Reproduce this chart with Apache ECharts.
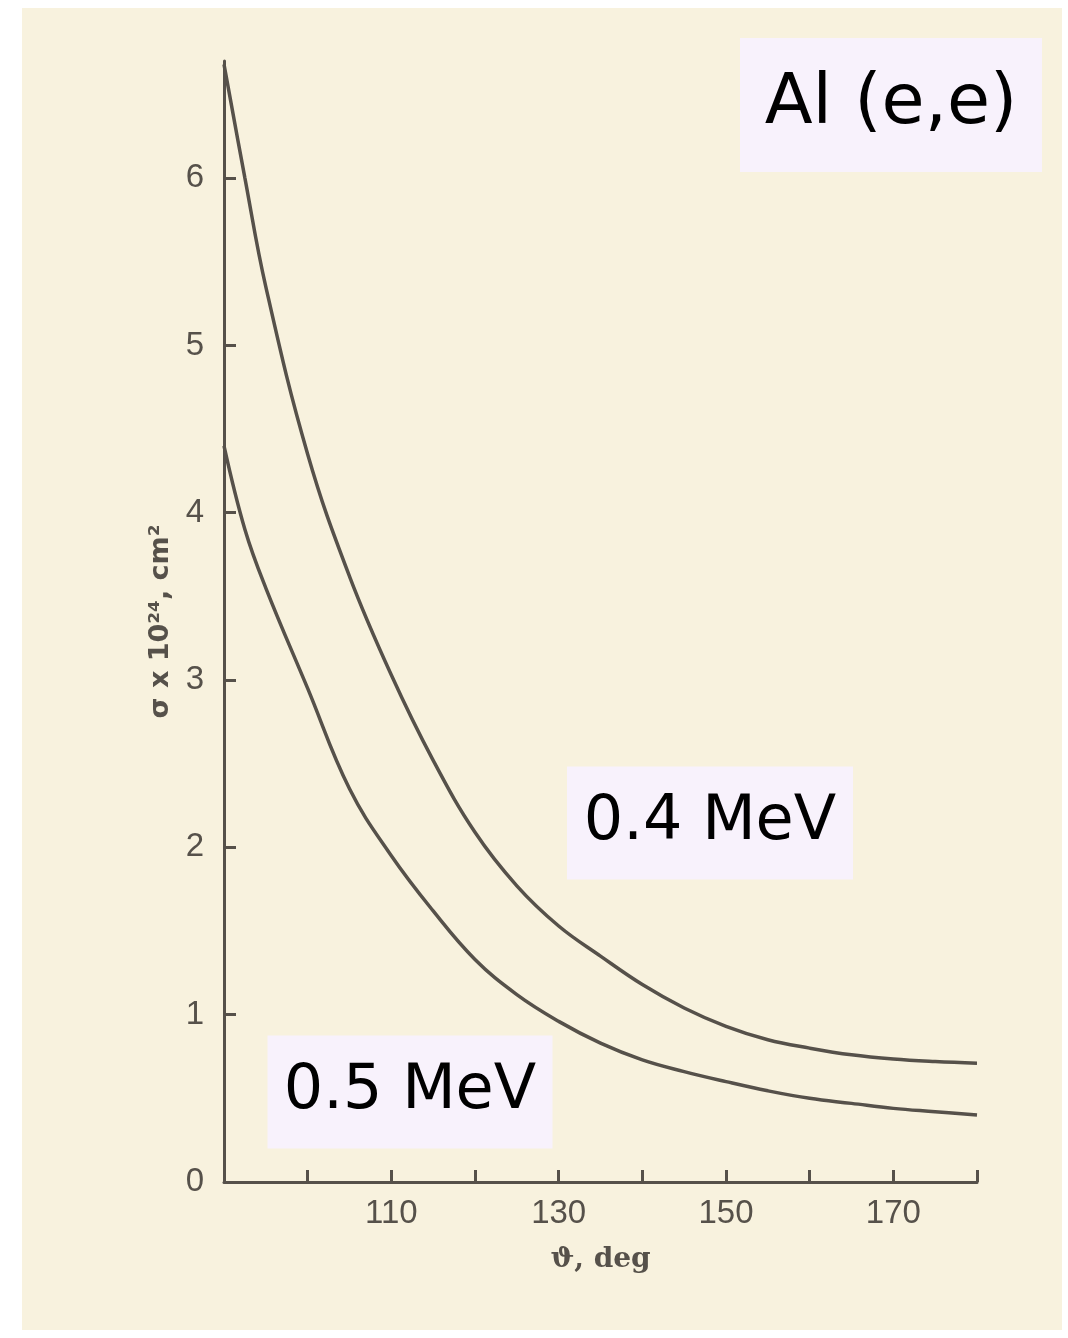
<!DOCTYPE html>
<html>
<head>
<meta charset="utf-8">
<script src="https://cdn.jsdelivr.net/npm/echarts@6/dist/echarts.min.js"></script>
<style>
html,body{margin:0;padding:0;background:#ffffff;}
#chart{width:1068px;height:1338px;}
</style>
</head>
<body>
<div id="chart"></div>
<script>
// Data (angle in degrees, sigma x 10^24 cm^2)
const angles = [90, 92.5, 95, 100, 105, 110, 115, 120, 125, 130, 135, 140, 145, 150, 155, 160, 165, 170, 175, 180];
const sigma04 = [6.68, 6.0, 5.35, 4.35, 3.62, 3.03, 2.52, 2.09, 1.77, 1.53, 1.35, 1.18, 1.04, 0.93, 0.85, 0.80, 0.76, 0.735, 0.72, 0.71];
const sigma05 = [4.4, 3.9, 3.55, 2.95, 2.35, 1.95, 1.62, 1.33, 1.12, 0.96, 0.83, 0.73, 0.66, 0.60, 0.545, 0.50, 0.47, 0.44, 0.42, 0.40];
const xTicks = [90, 100, 110, 120, 130, 140, 150, 160, 170, 180];
const xLabels = [110, 130, 150, 170];
const yTicks = [0, 1, 2, 3, 4, 5, 6];
const seriesNames = ['0.4 MeV', '0.5 MeV'];
const title = 'Al (e,e)';
const xName = 'ϑ, deg';
const yName = 'σ x 10²⁴, cm²';

const ink = '#56514a';
const chart = echarts.init(document.getElementById('chart'));
const pair = (xs, ys) => xs.map((x, i) => [x, ys[i]]);
const boxText = (txt, cx, cy, w, h, size) => ({
  type: 'group', left: cx - w / 2, top: cy - h / 2, z: 20,
  children: [
    { type: 'rect', shape: { x: 0, y: 0, width: w, height: h }, style: { fill: '#f8f2fc' } },
    { type: 'text', x: w / 2, y: h / 2, style: { text: txt, fill: '#000', font: size + 'px "Comic Sans MS", "DejaVu Sans", sans-serif', align: 'center', verticalAlign: 'middle' } }
  ]
});

chart.setOption({
  backgroundColor: '#ffffff',
  animation: false,
  graphic: [
    { type: 'rect', z: -10, shape: { x: 22, y: 8, width: 1040, height: 1322 }, style: { fill: '#f8f2de' } },
    boxText(title, 891, 105, 302, 134, 70),
    boxText(seriesNames[0], 710, 823, 286, 113, 62),
    boxText(seriesNames[1], 410, 1092, 285, 113, 62)
  ],
  grid: { left: 224, right: 91, top: 61, bottom: 156, containLabel: false },
  xAxis: {
    type: 'value', min: 90, max: 180, interval: 10,
    name: xName, nameLocation: 'middle', nameGap: 64,
    nameTextStyle: { color: ink, fontSize: 28, fontFamily: 'DejaVu Serif', fontWeight: 'bold' },
    axisLine: { show: true, onZero: false, lineStyle: { color: ink, width: 3 } },
    axisTick: { show: true, inside: true, length: 12, customValues: xTicks, lineStyle: { color: ink, width: 3 } },
    axisLabel: { customValues: xLabels, color: ink, fontSize: 33, fontFamily: 'Liberation Sans', margin: 15 },
    splitLine: { show: false }
  },
  yAxis: {
    type: 'value', min: 0, max: 6.7, interval: 1,
    name: yName, nameLocation: 'middle', nameGap: 42, nameRotate: 90,
    nameTextStyle: { color: ink, fontSize: 27, fontFamily: 'DejaVu Sans', fontWeight: 'bold' },
    axisLine: { show: true, lineStyle: { color: ink, width: 3 } },
    axisTick: { show: true, inside: true, length: 12, customValues: yTicks, lineStyle: { color: ink, width: 3 } },
    axisLabel: { customValues: yTicks, color: ink, fontSize: 33, fontFamily: 'Liberation Sans', margin: 20 },
    splitLine: { show: false }
  },
  series: [
    { name: seriesNames[0], type: 'line', data: pair(angles, sigma04), smooth: 0.4, showSymbol: false, lineStyle: { color: ink, width: 3.5 } },
    { name: seriesNames[1], type: 'line', data: pair(angles, sigma05), smooth: 0.4, showSymbol: false, lineStyle: { color: ink, width: 3.5 } }
  ]
});
</script>
</body>
</html>
